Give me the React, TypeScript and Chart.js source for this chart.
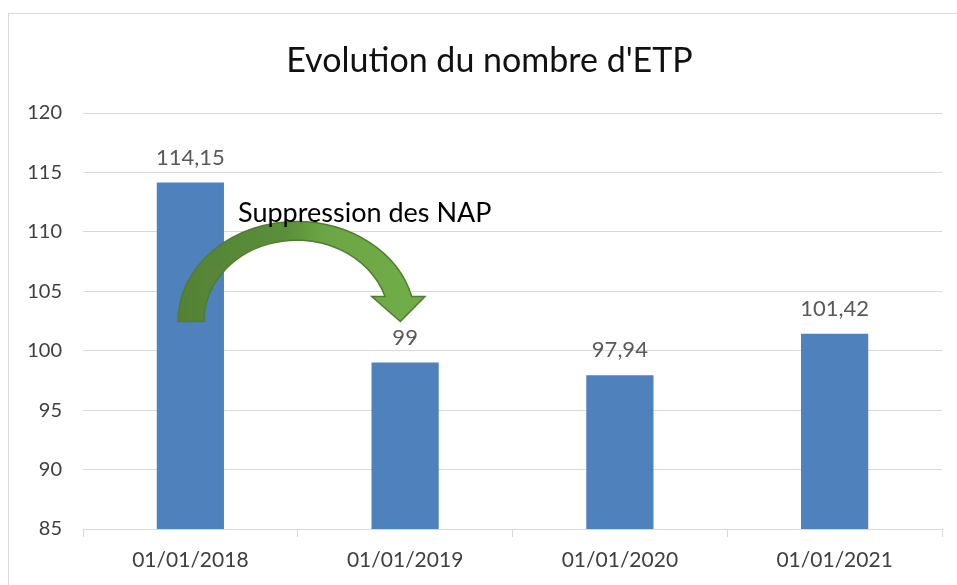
import React, { useEffect, useRef } from "react";
import { Chart, registerables } from "chart.js";

Chart.register(...registerables);

// ---- data ----
const categories = ["01/01/2018", "01/01/2019", "01/01/2020", "01/01/2021"];
const etpValues = [114.15, 99, 97.94, 101.42];
const yMin = 85;
const yMax = 120;
const yStep = 5;
const chartTitle = "Evolution du nombre d'ETP";
const annotationText = "Suppression des NAP";
// arrow annotation anchored on categories / values
const arrowFromIndex = 0;
const arrowToIndex = 1;
const arrowBaseValue = 102.46;
const arrowOuterTopValue = 110.88;
const arrowInnerTopValue = 109.3;
const annotationBaselineValue = 110.85;

const FONT = "Lato";

const fmt = (v: number) => String(v).replace(".", ",");

const framePlugin = {
  id: "frame",
  beforeDraw(chart: any) {
    const ctx = chart.ctx;
    ctx.save();
    ctx.fillStyle = "#ffffff";
    ctx.fillRect(0, 0, chart.width, chart.height);
    ctx.strokeStyle = "#d9d9d9";
    ctx.lineWidth = 1;
    ctx.strokeRect(8.5, 13.5, 3000, 3000);
    // chart title
    ctx.font = `34px ${FONT}`;
    ctx.fillStyle = "#111111";
    ctx.textAlign = "center";
    ctx.textBaseline = "alphabetic";
    ctx.fillText(chartTitle, 489.5, 72);
    ctx.restore();
  },
};

const dataLabelPlugin = {
  id: "dataLabels",
  afterDatasetsDraw(chart: any) {
    const ctx = chart.ctx;
    const meta = chart.getDatasetMeta(0);
    ctx.save();
    ctx.font = `22px ${FONT}`;
    ctx.fillStyle = "#595959";
    ctx.textAlign = "center";
    ctx.textBaseline = "middle";
    meta.data.forEach((bar: any, i: number) => {
      ctx.fillText(fmt(etpValues[i]), bar.x, bar.y - 25);
    });
    ctx.restore();
  },
};

const arrowPlugin = {
  id: "arrow",
  afterDatasetsDraw(chart: any) {
    const ctx = chart.ctx;
    const xs = chart.scales.x;
    const ys = chart.scales.y;
    const x0 = xs.getPixelForValue(arrowFromIndex);
    const x1 = xs.getPixelForValue(arrowToIndex);
    const band = x1 - x0;
    const cx = (x0 + x1) / 2 - 1;
    const cy = ys.getPixelForValue(arrowBaseValue);
    const ryO = cy - ys.getPixelForValue(arrowOuterTopValue);
    const ryI = cy - ys.getPixelForValue(arrowInnerTopValue);
    const rxO = band * 0.553;
    const rxI = band * 0.432;
    const headRise = 25;
    const aO = Math.asin(headRise / ryO);
    const aI = Math.asin(headRise / ryI);
    const hy = cy - headRise;
    const shaftOuterX = cx + rxO * Math.cos(aO);
    const shaftInnerX = cx + rxI * Math.cos(aI);
    const mid = (shaftOuterX + shaftInnerX) / 2;
    const headHalf = band * 0.124;
    const tipX = mid + 2;

    ctx.save();
    const grad = ctx.createLinearGradient(cx - rxO, 0, cx + rxO, 0);
    grad.addColorStop(0, "#548235");
    grad.addColorStop(0.45, "#5a8f39");
    grad.addColorStop(0.62, "#6ca644");
    grad.addColorStop(1, "#70ad47");
    ctx.beginPath();
    ctx.moveTo(cx - rxI, cy);
    ctx.lineTo(cx - rxO, cy);
    ctx.ellipse(cx, cy, rxO, ryO, 0, Math.PI, 2 * Math.PI - aO, false);
    ctx.lineTo(mid + headHalf, hy);
    ctx.lineTo(tipX, cy);
    ctx.lineTo(mid - headHalf, hy);
    ctx.lineTo(shaftInnerX, hy);
    ctx.ellipse(cx, cy, rxI, ryI, 0, 2 * Math.PI - aI, Math.PI, true);
    ctx.closePath();
    ctx.fillStyle = grad;
    ctx.fill();
    ctx.strokeStyle = "#4f7c31";
    ctx.lineWidth = 1.5;
    ctx.lineJoin = "miter";
    ctx.stroke();

    ctx.font = `27px ${FONT}`;
    ctx.fillStyle = "#000000";
    ctx.textAlign = "left";
    ctx.textBaseline = "alphabetic";
    ctx.fillText(annotationText, x0 + band * 0.222, ys.getPixelForValue(annotationBaselineValue));
    ctx.restore();
  },
};

export default function App() {
  const ref = useRef<HTMLCanvasElement | null>(null);

  useEffect(() => {
    document.body.style.margin = "0";
    if (!ref.current) return;
    const chart = new Chart(ref.current, {
      type: "bar",
      data: {
        labels: categories,
        datasets: [
          {
            data: etpValues,
            backgroundColor: "#4f81bd",
            borderWidth: 0,
            barPercentage: 0.313,
            categoryPercentage: 1,
          },
        ],
      },
      options: {
        animation: false,
        responsive: false,
        events: [],
        layout: { padding: { left: 0, right: 15, top: 113, bottom: 0 } },
        plugins: {
          legend: { display: false },
          tooltip: { enabled: false },
          title: { display: false },
        },
        scales: {
          x: {
            grid: {
              offset: true,
              drawOnChartArea: false,
              drawTicks: true,
              tickLength: 8,
              color: "#d9d9d9",
            },
            border: { display: true, color: "#d9d9d9" },
            ticks: {
              color: "#404040",
              font: { family: FONT, size: 21 },
              padding: 11,
              maxRotation: 0,
            },
            afterFit: (s: any) => {
              s.height = 56;
            },
          },
          y: {
            min: yMin,
            max: yMax,
            ticks: {
              stepSize: yStep,
              color: "#404040",
              font: { family: FONT, size: 20 },
              padding: 21,
            },
            grid: { color: "#d9d9d9", drawTicks: false },
            border: { display: false },
            afterFit: (s: any) => {
              s.width = 83;
            },
          },
        },
      },
      plugins: [framePlugin, dataLabelPlugin, arrowPlugin],
    });
    return () => chart.destroy();
  }, []);

  return (
    <div style={{ width: 957, height: 585 }}>
      <canvas ref={ref} width={957} height={585} style={{ display: "block" }} />
    </div>
  );
}
